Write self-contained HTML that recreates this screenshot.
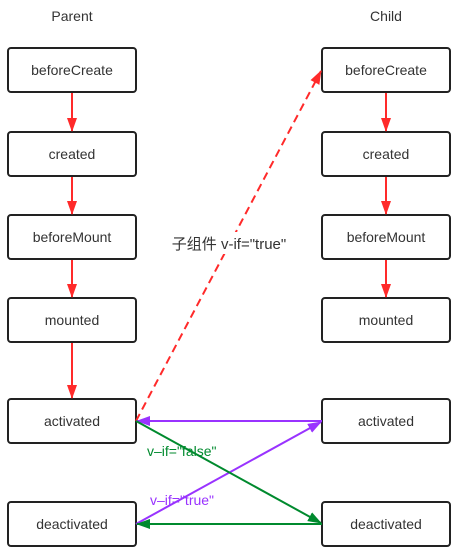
<!DOCTYPE html>
<html><head><style>
body{margin:0;background:#fff;}
svg{display:block;font-family:"Liberation Sans","Noto Sans CJK SC",sans-serif;}
</style></head><body>
<svg width="456" height="553" viewBox="0 0 456 553">
<defs>
<marker id="r" markerWidth="14" markerHeight="10" refX="13" refY="5" orient="auto" markerUnits="userSpaceOnUse"><path d="M0,0 L14,5 L0,10 z" fill="#ff2a2a"/></marker>
<marker id="p" markerWidth="14" markerHeight="10" refX="13" refY="5" orient="auto" markerUnits="userSpaceOnUse"><path d="M0,0 L14,5 L0,10 z" fill="#9933ff"/></marker>
<marker id="g" markerWidth="14" markerHeight="10" refX="13" refY="5" orient="auto" markerUnits="userSpaceOnUse"><path d="M0,0 L14,5 L0,10 z" fill="#008a2e"/></marker>
</defs>
<g font-size="14" fill="#333" text-anchor="middle">
<text x="72" y="21">Parent</text>
<text x="386" y="21">Child</text>
</g>
<g fill="#fff" stroke="#222" stroke-width="2">
<rect x="8" y="48" width="128" height="44" rx="3"/>
<rect x="8" y="132" width="128" height="44" rx="3"/>
<rect x="8" y="215" width="128" height="44" rx="3"/>
<rect x="8" y="298" width="128" height="44" rx="3"/>
<rect x="8" y="399" width="128" height="44" rx="3"/>
<rect x="8" y="502" width="128" height="44" rx="3"/>
<rect x="322" y="48" width="128" height="44" rx="3"/>
<rect x="322" y="132" width="128" height="44" rx="3"/>
<rect x="322" y="215" width="128" height="44" rx="3"/>
<rect x="322" y="298" width="128" height="44" rx="3"/>
<rect x="322" y="399" width="128" height="44" rx="3"/>
<rect x="322" y="502" width="128" height="44" rx="3"/>
</g>
<g font-size="14" fill="#333" text-anchor="middle">
<text x="72" y="75">beforeCreate</text>
<text x="72" y="159">created</text>
<text x="72" y="242">beforeMount</text>
<text x="72" y="325">mounted</text>
<text x="72" y="426">activated</text>
<text x="72" y="529">deactivated</text>
<text x="386" y="75">beforeCreate</text>
<text x="386" y="159">created</text>
<text x="386" y="242">beforeMount</text>
<text x="386" y="325">mounted</text>
<text x="386" y="426">activated</text>
<text x="386" y="529">deactivated</text>
</g>
<g stroke="#ff2a2a" stroke-width="2" marker-end="url(#r)">
<line x1="72" y1="93" x2="72" y2="131"/>
<line x1="72" y1="177" x2="72" y2="214"/>
<line x1="72" y1="260" x2="72" y2="297"/>
<line x1="72" y1="343" x2="72" y2="398"/>
<line x1="386" y1="93" x2="386" y2="131"/>
<line x1="386" y1="177" x2="386" y2="214"/>
<line x1="386" y1="260" x2="386" y2="297"/>
<line x1="136" y1="421" x2="321" y2="71" stroke-dasharray="8,5"/>
</g>
<rect x="164" y="232" width="130" height="22" fill="#fff"/>
<text x="229" y="249" font-size="15" fill="#333" text-anchor="middle">子组件 v-if="true"</text>
<g stroke-width="2">
<line x1="322" y1="421" x2="137" y2="421" stroke="#9933ff" marker-end="url(#p)"/>
<line x1="136" y1="524" x2="321" y2="422" stroke="#9933ff" marker-end="url(#p)"/>
<line x1="136" y1="421" x2="321" y2="523" stroke="#008a2e" marker-end="url(#g)"/>
<line x1="322" y1="524" x2="137" y2="524" stroke="#008a2e" marker-end="url(#g)"/>
</g>
<text x="147" y="456" font-size="14" fill="#008a2e">v–if="false"</text>
<text x="150" y="505" font-size="14" fill="#9933ff">v–if="true"</text>
</svg>
</body></html>
